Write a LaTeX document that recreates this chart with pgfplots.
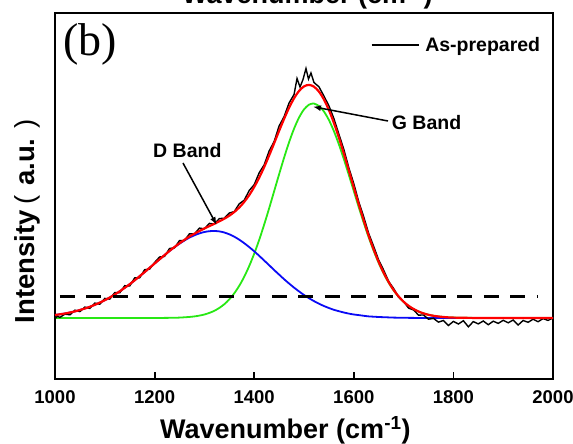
\documentclass[border=0pt]{standalone}
\usepackage{pgfplots}
\pgfplotsset{compat=1.18}
\usetikzlibrary{arrows.meta}
\usepackage{fontspec}
\setmainfont{Liberation Sans}
\newfontfamily\serifb{Liberation Serif}
\definecolor{fitred}{RGB}{255,0,0}
\definecolor{fitgreen}{RGB}{40,232,20}
\definecolor{fitblue}{RGB}{10,10,245}
\begin{document}
\begin{tikzpicture}[x=1pt,y=1pt]
\useasboundingbox (0,0) rectangle (573,444);
\begin{axis}[
  at={(55pt,65pt)}, anchor=south west,
  scale only axis, width=498pt, height=366pt,
  xmin=1000, xmax=2000, ymin=-7, ymax=359,
  axis line style={line width=2pt},
  xtick={1000,1200,...,2000},
  ytick=\empty,
  xtick pos=left, xtick align=inside,
  major tick length=7pt,
  tick style={line width=1.8pt, black},
  xticklabel style={font=\bfseries\fontsize{18.5}{18.5}\selectfont, inner sep=0pt},
  xticklabel shift=11pt,
  /pgf/number format/assume math mode=true,
  /pgf/number format/1000 sep={},
  clip=false,
  legend style={at={(axis description cs:0.6345,0.9126)}, anchor=west, draw=none, fill=none,
    inner sep=0pt, outer sep=0pt, font=\bfseries\fontsize{19.5}{19.5}\selectfont,
    nodes={inner sep=0pt}, /tikz/every odd column/.append style={column sep=6pt}},
  legend image code/.code={\draw[#1, line width=1.3pt] (0pt,0pt) -- (47pt,0pt);},
]
% green (G band fit)
\addplot[fitgreen, line width=1.8pt, smooth, forget plot] coordinates {
(1000,54) (1050,54) (1100,54) (1150,54) (1200,54.05) (1220,54.1) (1240,54.25) (1250,54.4)
(1260,54.7) (1270,55.05) (1280,55.6) (1290,56.4) (1300,57.5) (1310,59.1) (1320,61.2) (1330,64.1)
(1340,67.8) (1350,72.6) (1360,78.7) (1370,86.2) (1380,95.3) (1390,106.0) (1400,118.3) (1410,132.1)
(1420,147.4) (1430,163.7) (1440,180.7) (1450,197.7) (1460,214.3) (1470,229.7) (1480,243.3)
(1490,254.4) (1500,262.6) (1510,267.3) (1518,268.5) (1520,268.4) (1530,266.1) (1540,260.5)
(1550,252.0) (1560,240.9) (1570,227.7) (1580,212.9) (1590,197.1) (1600,180.9) (1610,164.7)
(1620,149.2) (1630,134.5) (1640,121.1) (1650,109.0) (1660,98.4) (1670,89.3) (1680,81.6)
(1690,75.3) (1700,70.1) (1710,66.0) (1720,62.9) (1730,60.4) (1740,58.6) (1750,57.2) (1760,56.2)
(1770,55.5) (1780,55.0) (1790,54.6) (1800,54.4) (1820,54.2) (1850,54.05) (1900,54) (2000,54)
};
% blue (D band fit)
\addplot[fitblue, line width=1.8pt, smooth, forget plot] coordinates {
(1000,57.0) (1010,57.7) (1020,58.5) (1030,59.5) (1040,60.6) (1050,62.0) (1060,63.5) (1070,65.2)
(1080,67.2) (1090,69.4) (1100,71.8) (1110,74.5) (1120,77.5) (1130,80.7) (1140,84.2) (1150,87.8)
(1160,91.7) (1170,95.8) (1180,99.9) (1190,104.2) (1200,108.5) (1210,112.7) (1220,116.9) (1230,121.0)
(1240,124.8) (1250,128.3) (1260,131.5) (1270,134.4) (1280,136.7) (1290,138.6) (1300,140.0)
(1310,140.8) (1320,141.0) (1330,140.6) (1340,139.5) (1350,137.7) (1360,135.3) (1370,132.3)
(1380,128.8) (1390,124.9) (1400,120.7) (1410,116.2) (1420,111.5) (1430,106.8) (1440,102.0)
(1450,97.4) (1460,92.8) (1470,88.5) (1480,84.4) (1490,80.6) (1500,77.0) (1510,73.8) (1520,70.9)
(1530,68.3) (1540,66.0) (1550,64.0) (1560,62.2) (1570,60.8) (1580,59.5) (1590,58.4) (1600,57.5)
(1610,56.9) (1620,56.2) (1630,55.6) (1640,55.3) (1650,55.0) (1660,54.8) (1670,54.6) (1680,54.4)
(1690,54.3) (1700,54.2) (1720,54.1) (1750,54.0) (1800,54.0) (2000,54.0)
};
% black measured spectrum
\addplot[black, line width=1.4pt] coordinates {
(1000,53.5) (1005,55.8) (1010,54.6) (1020,57.9) (1030,57.2) (1040,61.8) (1050,60.4) (1060,64.9)
(1070,63.6) (1080,68.9) (1090,67.8) (1100,73.6) (1110,72.9) (1120,79.4) (1130,79.2) (1140,86.3)
(1150,86.0) (1160,94.1) (1170,94.2) (1180,102.3) (1190,102.9) (1200,109.5) (1210,115.0) (1220,115.6)
(1230,123.5) (1240,124.2) (1250,131.4) (1260,131.5) (1270,138.2) (1280,138.0) (1290,143.9)
(1300,143.2) (1310,148.6) (1320,147.9) (1330,153.4) (1340,153.8) (1350,159.0) (1360,160.4)
(1370,168.2) (1380,171.8) (1390,181.5) (1400,187.3) (1410,199.2) (1420,207.1) (1430,221.0)
(1440,230.4) (1450,246.0) (1460,255.3) (1470,269.0) (1480,277.5) (1486,293.5) (1492,285.0)
(1498,292.5) (1504,303.5) (1509,293.0) (1514,299.0) (1520,289.5) (1530,285.2) (1540,276.0)
(1550,266.2) (1560,253.5) (1570,237.9) (1580,222.6) (1590,204.2) (1600,188.3) (1610,170.1)
(1620,155.0) (1630,138.4) (1640,125.5) (1650,111.9) (1660,101.8) (1670,90.6) (1680,83.5)
(1690,74.8) (1700,70.4) (1710,63.9) (1720,62.0) (1730,56.9) (1740,57.0) (1750,52.8) (1760,53.6)
(1770,49.9) (1780,51.5) (1790,46.5) (1800,50.6) (1810,48.0) (1820,51.3) (1830,45.2) (1840,50.4)
(1850,48.1) (1860,51.0) (1870,47.3) (1880,50.8) (1890,48.6) (1900,51.7) (1910,49.2) (1920,52.0)
(1930,47.0) (1940,51.5) (1950,49.7) (1960,52.8) (1970,50.3) (1980,53.4) (1990,51.6) (2000,54.0)
};
\addlegendentry{As-prepared}
% red (cumulative fit)
\addplot[fitred, line width=2.2pt, smooth, forget plot] coordinates {
(1000,57.0) (1010,57.7) (1020,58.5) (1030,59.5) (1040,60.6) (1050,62.0) (1060,63.5) (1070,65.2)
(1080,67.2) (1090,69.4) (1100,71.8) (1110,74.5) (1120,77.5) (1130,80.7) (1140,84.2) (1150,87.8)
(1160,91.7) (1170,95.8) (1180,99.9) (1190,104.2) (1200,108.5) (1210,112.7) (1220,116.9) (1230,121.1)
(1240,125.0) (1250,128.7) (1260,132.2) (1270,135.5) (1280,138.3) (1290,141.0) (1300,143.5)
(1310,145.9) (1320,148.2) (1330,150.7) (1340,153.3) (1350,156.3) (1360,160.0) (1370,164.5)
(1380,170.1) (1390,176.9) (1400,185.0) (1410,194.3) (1420,204.9) (1430,216.5) (1440,228.7)
(1450,241.1) (1460,253.1) (1470,264.2) (1480,273.7) (1490,281.0) (1500,285.6) (1510,287.1)
(1520,285.3) (1530,280.4) (1540,272.5) (1550,262.0) (1560,249.1) (1570,234.5) (1580,218.4)
(1590,201.5) (1600,184.4) (1610,167.6) (1620,151.4) (1630,136.1) (1640,122.4) (1650,110.0)
(1660,99.2) (1670,89.9) (1680,82.0) (1690,75.6) (1700,70.3) (1710,66.2) (1720,63.0) (1730,60.5)
(1740,58.6) (1750,57.2) (1760,56.2) (1770,55.5) (1780,55.0) (1790,54.6) (1800,54.4) (1820,54.2)
(1850,54.05) (1900,54.0) (2000,54.0)
};
% dashed baseline
\addplot[black, line width=3.5pt, dash pattern=on 15pt off 11.5pt, forget plot] coordinates {
(1010,75.5) (1968,75.5)
};
\draw[-{Latex[length=8pt,width=6pt]}, line width=1.5pt] (axis cs:1257,209) -- (axis cs:1324.7,147);
\draw[-{Latex[length=8pt,width=6pt]}, line width=1.5pt] (axis cs:1668.7,251) -- (axis cs:1518,265.3);
\node[anchor=base west, inner sep=0pt, font=\bfseries\fontsize{19.5}{19.5}\selectfont] at (axis cs:1196.8,214.7) {D Band};
\node[anchor=base west, inner sep=0pt, font=\bfseries\fontsize{19.5}{19.5}\selectfont] at (axis cs:1676,242) {G Band};
\end{axis}
\node[anchor=base west, inner sep=0pt, font=\bfseries\fontsize{27}{27}\selectfont] at (160,5) {Wavenumber (cm\textsuperscript{-1})};
\node[anchor=base west, inner sep=0pt, font=\bfseries\fontsize{27}{27}\selectfont] at (182,440) {Wavenumber (cm\textsuperscript{-1})};
\node[rotate=90, anchor=base west, inner sep=0pt, font=\bfseries\fontsize{27.5}{27.5}\selectfont] at (35,120.7) {Intensity\hspace{6pt}{\mdseries(}\hspace{9pt}a.u.\hspace{10pt}{\mdseries)}};
\node[anchor=base west, inner sep=0pt, font=\serifb\fontsize{46}{46}\selectfont] at (63,388) {(b)};
\end{tikzpicture}
\end{document}
